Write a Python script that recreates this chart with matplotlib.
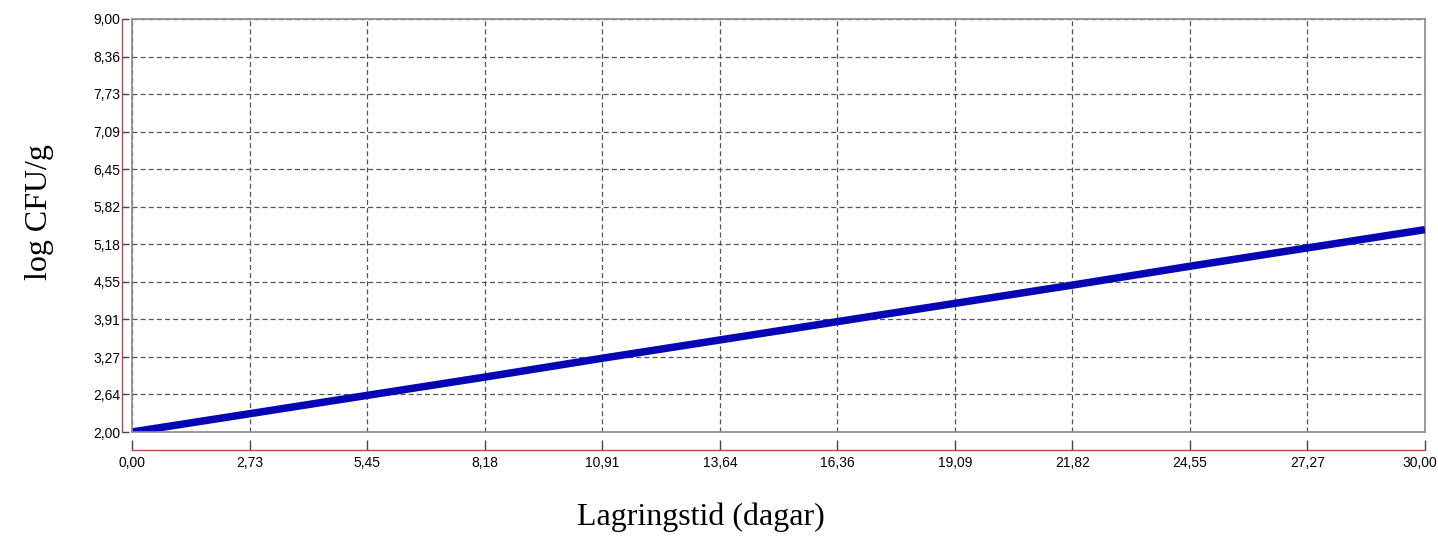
import matplotlib
matplotlib.use("Agg")
import matplotlib.pyplot as plt
from matplotlib.lines import Line2D
from matplotlib.transforms import ScaledTranslation

plt.rcParams["font.family"] = ["Liberation Sans", "DejaVu Sans"]

days = [0.00, 2.73, 5.45, 8.18, 10.91, 13.64, 16.36, 19.09, 21.82, 24.55, 27.27, 30.00]
log_cfu = [2.00, 2.31, 2.62, 2.93, 3.25, 3.56, 3.87, 4.18, 4.49, 4.81, 5.12, 5.43]
x_ticks = [0.00, 2.73, 5.45, 8.18, 10.91, 13.64, 16.36, 19.09, 21.82, 24.55, 27.27, 30.00]
y_ticks = [2.00, 2.64, 3.27, 3.91, 4.55, 5.18, 5.82, 6.45, 7.09, 7.73, 8.36, 9.00]
x_label = "Lagringstid (dagar)"
y_label = "log CFU/g"

fig = plt.figure(figsize=(14.38, 5.38), dpi=100)
ax = fig.add_axes([132/1438, 1-432/538, (1425-132)/1438, (432-19)/538])

ax.plot(days, log_cfu, color="#0606b4", lw=5.4, solid_capstyle="butt", zorder=3)
ax.set_xlim(0, 30)
ax.set_ylim(2, 9)
ax.set_xticks(x_ticks)
ax.set_yticks(y_ticks)
fmt = lambda v: f"{v:.2f}".replace(".", ",")
ax.set_xticklabels([fmt(v) for v in x_ticks])
ax.set_yticklabels([fmt(v) for v in y_ticks])
for lab in ax.get_xticklabels() + ax.get_yticklabels():
    lab.set_fontsize(7)
    lab.set_color("#333333")

ax.grid(True, color="#555555", lw=0.9, linestyle=(0, (4, 2.5)))
ax.set_axisbelow(True)

red = "#b84848"
gray = "#8a8a8a"
for s in ("top", "right"):
    ax.spines[s].set_color(gray)
    ax.spines[s].set_linewidth(1.2)
ax.spines["left"].set_position(("outward", 7))
ax.spines["bottom"].set_position(("outward", 13))
ax.spines["left"].set_color(red)
ax.spines["bottom"].set_color(red)
ax.spines["left"].set_linewidth(1.0)
ax.spines["bottom"].set_linewidth(1.0)
ax.tick_params(axis="y", direction="in", length=5, width=1, color="#444444", pad=1.5)
ax.tick_params(axis="x", direction="in", length=7, width=1, color="#444444", pad=4)

# keep the last x label inside the figure
last = ax.get_xticklabels()[-1]
last.set_transform(last.get_transform() + ScaledTranslation(-5/100, 0, fig.dpi_scale_trans))

ax.add_line(Line2D([0, 0], [0, 1], transform=ax.transAxes, color=gray, lw=1.2, clip_on=False, zorder=4))
ax.add_line(Line2D([0, 1], [0, 0], transform=ax.transAxes, color=gray, lw=1.2, clip_on=False, zorder=4))

serif = ["Liberation Serif", "DejaVu Serif"]
fig.text(701/1438, 1-517/538, x_label, family=serif, size=23, ha="center", va="center", color="black")
fig.text(40/1438, 1-212/538, y_label, family=serif, size=23, ha="center", va="center", rotation=90, color="black")

fig.savefig("out.png", dpi=100)
